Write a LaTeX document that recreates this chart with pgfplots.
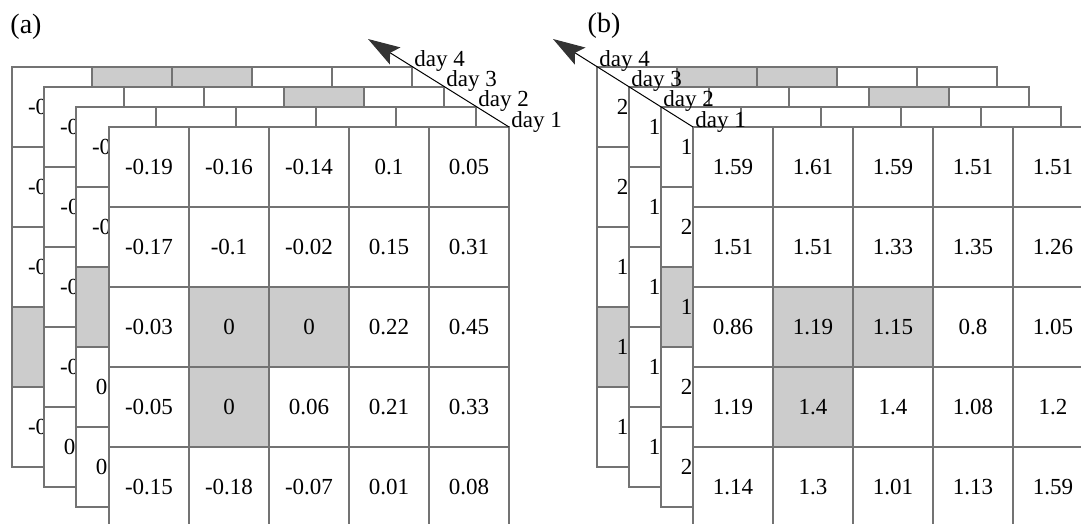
\documentclass[border=0pt]{standalone}
\usepackage{pgfplots}
\pgfplotsset{compat=1.18}
\usepackage{pgfplotstable}
\usepackage{fontspec}
\setmainfont{Liberation Serif}
\usetikzlibrary{arrows.meta}

% c = column, r = row, g = shaded (1) or not (0), v = value shown in the cell
% ---------- panel (a) ----------
\pgfplotstableread[col sep=comma]{
c,r,g,v
0,0,0,-0.19
1,0,0,-0.16
2,0,0,-0.14
3,0,0,0.1
4,0,0,0.05
0,1,0,-0.17
1,1,0,-0.1
2,1,0,-0.02
3,1,0,0.15
4,1,0,0.31
0,2,0,-0.03
1,2,1,0
2,2,1,0
3,2,0,0.22
4,2,0,0.45
0,3,0,-0.05
1,3,1,0
2,3,0,0.06
3,3,0,0.21
4,3,0,0.33
0,4,0,-0.15
1,4,0,-0.18
2,4,0,-0.07
3,4,0,0.01
4,4,0,0.08
}\aDayOne
\pgfplotstableread[col sep=comma]{
c,r,g,v
0,0,0,-0.12
1,0,0,{}
2,0,0,{}
3,0,0,{}
4,0,0,{}
0,1,0,-0.08
0,2,1,0
0,3,0,0.03
0,4,0,0.02
}\aDayTwo
\pgfplotstableread[col sep=comma]{
c,r,g,v
0,0,0,-0.15
1,0,0,{}
2,0,0,{}
3,0,1,{}
4,0,0,{}
0,1,0,-0.11
0,2,0,-0.04
0,3,0,-0.06
0,4,0,0.04
}\aDayThree
\pgfplotstableread[col sep=comma]{
c,r,g,v
0,0,0,-0.18
1,0,1,{}
2,0,1,{}
3,0,0,{}
4,0,0,{}
0,1,0,-0.13
0,2,0,-0.05
0,3,1,0
0,4,0,-0.09
}\aDayFour
% ---------- panel (b) ----------
\pgfplotstableread[col sep=comma]{
c,r,g,v
0,0,0,1.59
1,0,0,1.61
2,0,0,1.59
3,0,0,1.51
4,0,0,1.51
0,1,0,1.51
1,1,0,1.51
2,1,0,1.33
3,1,0,1.35
4,1,0,1.26
0,2,0,0.86
1,2,1,1.19
2,2,1,1.15
3,2,0,0.8
4,2,0,1.05
0,3,0,1.19
1,3,1,1.4
2,3,0,1.4
3,3,0,1.08
4,3,0,1.2
0,4,0,1.14
1,4,0,1.3
2,4,0,1.01
3,4,0,1.13
4,4,0,1.59
}\bDayOne
\pgfplotstableread[col sep=comma]{
c,r,g,v
0,0,0,1.62
1,0,0,{}
2,0,0,{}
3,0,0,{}
4,0,0,{}
0,1,0,2.05
0,2,1,1.21
0,3,0,2.12
0,4,0,2.08
}\bDayTwo
\pgfplotstableread[col sep=comma]{
c,r,g,v
0,0,0,1.55
1,0,0,{}
2,0,0,{}
3,0,1,{}
4,0,0,{}
0,1,0,1.48
0,2,0,1.02
0,3,0,1.23
0,4,0,1.17
}\bDayThree
\pgfplotstableread[col sep=comma]{
c,r,g,v
0,0,0,2.01
1,0,1,{}
2,0,1,{}
3,0,0,{}
4,0,0,{}
0,1,0,2.14
0,2,0,1.12
0,3,1,1.25
0,4,0,1.36
}\bDayFour

\pgfplotsset{
  cellbox/.style={
    scatter, only marks, mark=square*, mark size=20pt,
    point meta=explicit symbolic,
    scatter/classes={
      0={mark=square*, draw=black!55, fill=white, line width=0.75pt},
      1={mark=square*, draw=black!55, fill=black!20, line width=0.75pt}},
  },
  celltext/.style={
    draw=none, mark=none, only marks,
    point meta=explicit symbolic,
    nodes near coords,
    nodes near coords align={center},
    every node near coord/.append style={anchor=center, inner sep=0pt,
      font=\fontsize{11.5}{13}\selectfont, text=black},
  },
}
\newcommand{\layer}[3]{%
  \addplot[cellbox] table[x expr={#2+80*\thisrow{c}}, y expr={#3+80*\thisrow{r}}, meta=g]{#1};
  \addplot[celltext] table[x expr={#2+80*\thisrow{c}}, y expr={#3+80*\thisrow{r}}, meta=v]{#1};
}
\tikzset{daylab/.style={anchor=base west, inner sep=1pt, font=\fontsize{11.5}{13}\selectfont}}

\begin{document}
\begin{tikzpicture}
\begin{axis}[
  name=ax,
  scale only axis, width=540.5pt, height=262pt,
  xmin=0, xmax=1081, ymin=0, ymax=524, y dir=reverse,
  enlargelimits=false, hide axis, clip marker paths=true,
]
% panel (a): back to front
\layer{\aDayFour}{52}{107}
\layer{\aDayThree}{84}{127}
\layer{\aDayTwo}{116}{147}
\layer{\aDayOne}{149}{167}
% panel (b)
\layer{\bDayFour}{637}{107}
\layer{\bDayThree}{669}{127}
\layer{\bDayTwo}{701}{147}
\layer{\bDayOne}{733}{167}
% day arrows
\addplot[black, line width=0.5pt, -{Stealth[length=16pt, width=10pt, inset=3pt, color=black!80]}]
  coordinates {(509,127) (368,39)};
\addplot[black, line width=0.5pt, -{Stealth[length=16pt, width=10pt, inset=3pt, color=black!80]}]
  coordinates {(693,127) (553,39)};
% labels
\node[daylab] at (axis cs:509,127) {day 1};
\node[daylab] at (axis cs:476,107) {day 2};
\node[daylab] at (axis cs:444,87) {day 3};
\node[daylab] at (axis cs:412,67) {day 4};
\node[daylab] at (axis cs:693,127) {day 1};
\node[daylab] at (axis cs:661,107) {day 2};
\node[daylab] at (axis cs:629,87) {day 3};
\node[daylab] at (axis cs:597,67) {day 4};
\node[font=\fontsize{14}{16}\selectfont] at (axis cs:26,27) {(a)};
\node[font=\fontsize{14}{16}\selectfont] at (axis cs:604,26) {(b)};
\end{axis}
\pgfresetboundingbox
\path (ax.south west) rectangle (ax.north east);
\end{tikzpicture}
\end{document}
